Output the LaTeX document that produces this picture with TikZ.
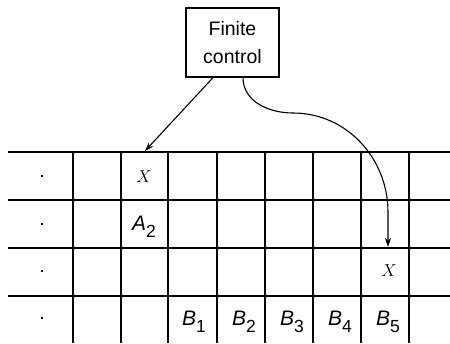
\documentclass[tikz,border=0pt]{standalone}
\usepackage{fontspec}
\setsansfont{Liberation Sans}
\usetikzlibrary{arrows.meta}
\newcommand\lbsub[1]{\raisebox{-6.5pt}{\fontsize{17.5}{17.5}\selectfont\upshape #1}}
\begin{document}
\begin{tikzpicture}[x=1pt,y=-1pt,
  hline/.style={line width=1.7pt},
  vline/.style={line width=1.2pt},
  lab/.style={font=\sffamily\itshape\fontsize{21}{21}\selectfont, inner sep=0pt},
  sym/.style={font=\fontsize{18}{18}\selectfont, inner sep=0pt},
  dotmark/.style={fill, inner sep=0pt, minimum size=2.6pt},
  fcbox/.style={draw, line width=1.3pt, minimum width=93pt, minimum height=69pt, align=center,
    font=\sffamily\fontsize{19.5}{28}\selectfont},
  arr/.style={line width=1.1pt, -{Stealth[length=9pt,width=6pt]}}]
\useasboundingbox (0,0) rectangle (450,343);
\foreach \y in {152,200,248,296} \draw[hline] (8,\y) -- (450,\y);
\foreach \x in {73,121,168,217,265,313,361,409} \draw[vline] (\x,152) -- (\x,343);
\node[dotmark] (d1) at (42,176) {};
\node[dotmark] (d2) at (42,224) {};
\node[dotmark] (d3) at (42,271) {};
\node[dotmark] (d4) at (42,318) {};
\node[fcbox] (fc) at (232.5,42.5) {Finite\\control};
\node[sym] (x1) at (144,177) {$X$};
\node[lab] (a2) at (144,227) {A\lbsub{2}};
\node[sym] (x2) at (389,271) {$X$};
\node[lab] (b1) at (194,322) {B\lbsub{1}};
\node[lab] (b2) at (244,322) {B\lbsub{2}};
\node[lab] (b3) at (292,322) {B\lbsub{3}};
\node[lab] (b4) at (340,322) {B\lbsub{4}};
\node[lab] (b5) at (388,322) {B\lbsub{5}};
\coordinate (t1) at (145,151);
\coordinate (t2) at (388,247);
\coordinate (m1) at (293,113);
\coordinate (m2) at (388,212);
\draw[arr] ([xshift=-19.5pt]fc.south) -- (t1);
\draw[arr] ([xshift=10.5pt]fc.south) to[out=-90,in=180] (m1) to[out=0,in=90] (m2) -- (t2);
\end{tikzpicture}
\end{document}
